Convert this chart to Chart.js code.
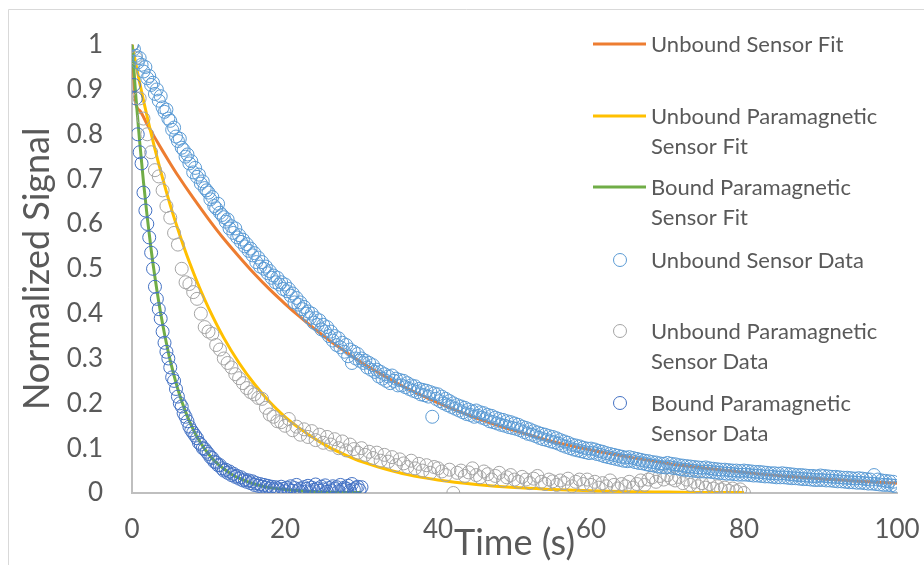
<!DOCTYPE html>
<html>
<head>
<meta charset="utf-8">
<script src="https://cdn.jsdelivr.net/npm/chart.js@4.4.1/dist/chart.umd.min.js"></script>
<style>
html,body{margin:0;padding:0;background:#fff;}
#wrap{width:924px;height:565px;position:relative;}
</style>
</head>
<body>
<div id="wrap"><canvas id="c" width="924" height="565"></canvas></div>
<script>
// ---------- DATA ----------
const seriesNames = [
  'Unbound Sensor Fit',
  'Unbound Paramagnetic Sensor Fit',
  'Bound Paramagnetic Sensor Fit',
  'Unbound Sensor Data',
  'Unbound Paramagnetic Sensor Data',
  'Bound Paramagnetic Sensor Data'
];

const xTicks = [0, 20, 40, 60, 80, 100];
const xTickLabels = ['0', '20', '40', '60', '80', '100'];
const yTicks = [0, 0.1, 0.2, 0.3, 0.4, 0.5, 0.6, 0.7, 0.8, 0.9, 1];
const yTickLabels = ['0', '0.1', '0.2', '0.3', '0.4', '0.5', '0.6', '0.7', '0.8', '0.9', '1'];

// Fit curves (time in s, normalized signal)
const unboundFitT = [0, 0.5, 1, 2, 3, 4, 5, 6, 8, 10, 12, 14, 16, 18, 20, 22, 24, 26, 28, 30, 33, 36, 40, 45, 50, 55, 60, 65, 70, 75, 80, 85, 90, 95, 100];
const unboundFitY = [1.0, 0.869, 0.853, 0.822, 0.792, 0.763, 0.735, 0.708, 0.658, 0.611, 0.567, 0.527, 0.489, 0.454, 0.422, 0.392, 0.364, 0.338, 0.314, 0.291, 0.261, 0.233, 0.201, 0.167, 0.139, 0.115, 0.096, 0.080, 0.066, 0.055, 0.046, 0.038, 0.032, 0.026, 0.022];

const paraFitT = [0, 0.5, 1, 2, 3, 4, 5, 6, 7, 8, 9, 10, 12, 14, 16, 18, 20, 22, 24, 26, 28, 30, 33, 36, 40, 45, 50, 55, 60, 65, 70, 75, 80];
const paraFitY = [1.0, 0.957, 0.915, 0.838, 0.767, 0.702, 0.642, 0.588, 0.538, 0.493, 0.451, 0.413, 0.346, 0.290, 0.243, 0.203, 0.170, 0.143, 0.120, 0.100, 0.084, 0.070, 0.054, 0.041, 0.029, 0.019, 0.012, 0.008, 0.005, 0.003, 0.002, 0.001, 0.001];

const boundFitT = [0, 0.5, 1, 1.5, 2, 2.5, 3, 3.5, 4, 4.5, 5, 6, 7, 8, 9, 10, 11, 12, 13, 14, 15, 16, 18, 20, 22, 25, 30];
const boundFitY = [1.0, 0.885, 0.784, 0.694, 0.614, 0.543, 0.481, 0.426, 0.377, 0.334, 0.295, 0.231, 0.181, 0.142, 0.111, 0.087, 0.068, 0.054, 0.042, 0.033, 0.026, 0.020, 0.012, 0.008, 0.005, 0.002, 0.001];

// Measured data, sampled every dt seconds starting at t = 0 (one row = 5 s)
const unboundDataDt = 0.25;
const unboundDataY = [
  1.0, 0.99, 0.975, 0.96, 0.97, 0.955, 0.94, 0.95, 0.925, 0.93, 0.91, 0.915, 0.89, 0.9, 0.875, 0.885, 0.86, 0.85, 0.855, 0.835,
  0.83, 0.81, 0.815, 0.795, 0.785, 0.79, 0.77, 0.765, 0.75, 0.755, 0.735, 0.74, 0.715, 0.725, 0.705, 0.71, 0.69, 0.695, 0.68, 0.675,
  0.67, 0.655, 0.66, 0.64, 0.635, 0.645, 0.625, 0.62, 0.615, 0.605, 0.61, 0.59, 0.595, 0.58, 0.59, 0.57, 0.575, 0.56, 0.565, 0.55,
  0.555, 0.54, 0.545, 0.53, 0.535, 0.515, 0.525, 0.505, 0.515, 0.5, 0.505, 0.49, 0.495, 0.48, 0.485, 0.47, 0.48, 0.465, 0.47, 0.455,
  0.465, 0.45, 0.455, 0.44, 0.445, 0.425, 0.435, 0.42, 0.425, 0.41, 0.415, 0.4, 0.405, 0.39, 0.4, 0.38, 0.39, 0.375, 0.385, 0.365,
  0.375, 0.36, 0.37, 0.35, 0.36, 0.34, 0.35, 0.33, 0.345, 0.325, 0.335, 0.315, 0.33, 0.305, 0.32, 0.29, 0.315, 0.3, 0.31, 0.295,
  0.3, 0.29, 0.295, 0.28, 0.29, 0.275, 0.285, 0.27, 0.275, 0.26, 0.27, 0.255, 0.265, 0.25, 0.26, 0.245, 0.262, 0.25, 0.255, 0.24,
  0.252, 0.24, 0.25, 0.236, 0.245, 0.232, 0.24, 0.228, 0.238, 0.225, 0.232, 0.22, 0.23, 0.218, 0.228, 0.215, 0.225, 0.17, 0.222, 0.21,
  0.22, 0.205, 0.215, 0.2, 0.21, 0.196, 0.205, 0.192, 0.2, 0.188, 0.196, 0.184, 0.193, 0.18, 0.19, 0.176, 0.186, 0.174, 0.182, 0.17,
  0.184, 0.172, 0.18, 0.168, 0.178, 0.165, 0.174, 0.16, 0.172, 0.158, 0.168, 0.155, 0.165, 0.152, 0.163, 0.15, 0.16, 0.147, 0.158, 0.145,
  0.155, 0.143, 0.152, 0.14, 0.148, 0.136, 0.145, 0.132, 0.142, 0.13, 0.138, 0.127, 0.135, 0.123, 0.132, 0.12, 0.13, 0.118, 0.127, 0.115,
  0.125, 0.113, 0.122, 0.11, 0.118, 0.106, 0.115, 0.103, 0.112, 0.1, 0.108, 0.097, 0.106, 0.095, 0.104, 0.093, 0.101, 0.091, 0.099, 0.089,
  0.099, 0.09, 0.097, 0.087, 0.094, 0.085, 0.092, 0.082, 0.089, 0.08, 0.087, 0.078, 0.085, 0.076, 0.083, 0.074, 0.081, 0.072, 0.079, 0.071,
  0.08, 0.072, 0.078, 0.069, 0.076, 0.067, 0.074, 0.066, 0.072, 0.064, 0.071, 0.062, 0.069, 0.061, 0.068, 0.059, 0.066, 0.058, 0.065, 0.057,
  0.067, 0.058, 0.065, 0.056, 0.064, 0.055, 0.062, 0.053, 0.061, 0.052, 0.06, 0.051, 0.059, 0.05, 0.058, 0.049, 0.057, 0.048, 0.056, 0.048,
  0.057, 0.048, 0.055, 0.047, 0.054, 0.046, 0.053, 0.045, 0.052, 0.044, 0.052, 0.043, 0.051, 0.043, 0.05, 0.042, 0.05, 0.041, 0.049, 0.041,
  0.05, 0.041, 0.049, 0.04, 0.048, 0.039, 0.047, 0.039, 0.047, 0.038, 0.046, 0.037, 0.045, 0.037, 0.044, 0.036, 0.044, 0.035, 0.043, 0.035,
  0.044, 0.035, 0.043, 0.034, 0.042, 0.033, 0.041, 0.033, 0.04, 0.032, 0.04, 0.031, 0.039, 0.031, 0.038, 0.03, 0.038, 0.029, 0.037, 0.029,
  0.039, 0.029, 0.038, 0.028, 0.037, 0.028, 0.036, 0.027, 0.036, 0.026, 0.035, 0.026, 0.034, 0.025, 0.034, 0.024, 0.033, 0.024, 0.032, 0.023,
  0.033, 0.023, 0.032, 0.022, 0.031, 0.021, 0.03, 0.021, 0.04, 0.02, 0.03, 0.019, 0.028, 0.018, 0.027, 0.018, 0.026, 0.017, 0.025, 0.016,
  0.012
];

// one row = 10 s
const paraDataDt = 0.5;
const paraDataY = [
  1.0, 0.97, 0.88, 0.835, 0.80, 0.76, 0.72, 0.706, 0.675, 0.64, 0.614, 0.58, 0.554, 0.50, 0.47, 0.466, 0.448, 0.433, 0.40, 0.37,
  0.36, 0.355, 0.33, 0.32, 0.30, 0.29, 0.28, 0.265, 0.256, 0.245, 0.234, 0.225, 0.22, 0.212, 0.21, 0.19, 0.175, 0.17, 0.16, 0.158,
  0.15, 0.165, 0.14, 0.148, 0.13, 0.142, 0.125, 0.138, 0.118, 0.13, 0.112, 0.125, 0.108, 0.12, 0.1, 0.115, 0.095, 0.108, 0.098, 0.09,
  0.1, 0.085, 0.092, 0.078, 0.09, 0.072, 0.085, 0.07, 0.08, 0.062, 0.075, 0.066, 0.058, 0.072, 0.055, 0.065, 0.05, 0.062, 0.045, 0.058,
  0.055, 0.048, 0.04, 0.052, 0.0, 0.045, 0.05, 0.038, 0.046, 0.055, 0.04, 0.035, 0.048, 0.042, 0.03, 0.038, 0.045, 0.028, 0.035, 0.04,
  0.03, 0.025, 0.036, 0.03, 0.022, 0.032, 0.038, 0.025, 0.02, 0.03, 0.026, 0.018, 0.028, 0.022, 0.032, 0.015, 0.025, 0.03, 0.02, 0.03,
  0.018, 0.025, 0.012, 0.022, 0.015, 0.028, 0.018, 0.01, 0.02, 0.015, 0.025, 0.012, 0.02, 0.028, 0.018, 0.03, 0.035, 0.025, 0.038, 0.03,
  0.04, 0.032, 0.028, 0.036, 0.022, 0.03, 0.018, 0.025, 0.015, 0.022, 0.012, 0.02, 0.01, 0.015, 0.008, 0.012, 0.005, 0.01, 0.004, 0.008,
  0.0
];

// one row = 5 s
const boundDataDt = 0.25;
const boundDataY = [
  1.00, 0.91, 0.88, 0.80, 0.76, 0.735, 0.67, 0.63, 0.60, 0.57, 0.536, 0.50, 0.46, 0.433, 0.41, 0.389, 0.36, 0.335, 0.315, 0.30,
  0.28, 0.258, 0.25, 0.232, 0.215, 0.20, 0.193, 0.178, 0.17, 0.16, 0.148, 0.14, 0.134, 0.128, 0.122, 0.112, 0.108, 0.10, 0.098, 0.092,
  0.087, 0.08, 0.078, 0.07, 0.068, 0.062, 0.062, 0.055, 0.05, 0.052, 0.045, 0.048, 0.04, 0.043, 0.036, 0.038, 0.032, 0.035, 0.028, 0.03,
  0.025, 0.028, 0.022, 0.026, 0.018, 0.022, 0.016, 0.02, 0.014, 0.018, 0.012, 0.016, 0.01, 0.014, 0.008, 0.013, 0.01, 0.006, 0.014, 0.009,
  0.004, 0.012, 0.008, 0.015, 0.005, 0.011, 0.018, 0.006, 0.01, 0.003, 0.013, 0.009, 0.016, 0.004, 0.012, 0.007, 0.019, 0.01, 0.005, 0.014,
  0.008, 0.017, 0.003, 0.011, 0.006, 0.015, 0.009, 0.013, 0.004, 0.018, 0.007, 0.012, 0.01, 0.016, 0.005, 0.02, 0.008, 0.011, 0.014, 0.006,
  0.013
];

// ---------- STYLE ----------
const colors = ['#ED7D31', '#FFC000', '#70AD47', '#5B9BD5', '#A5A5A5', '#4472C4'];
const textColor = '#595959';
const axisColor = '#BFBFBF';
const FONT = 'Lato, "Open Sans", sans-serif';

function pairs(xs, ys) { return xs.map((x, i) => ({ x: x, y: ys[i] })); }
function sampled(ys, dt) { return ys.map((y, i) => ({ x: Math.round(i * dt * 100) / 100, y: y })); }

function fitSet(i, data, order) {
  return {
    type: 'scatter', label: seriesNames[i], data: data, showLine: true,
    borderColor: colors[i], backgroundColor: colors[i], borderWidth: 3,
    pointRadius: 0, pointHoverRadius: 0, cubicInterpolationMode: 'monotone', order: order
  };
}
function dataSet(i, data) {
  return {
    type: 'scatter', label: seriesNames[i], data: data, showLine: false,
    borderColor: colors[i], backgroundColor: 'rgba(0,0,0,0)', borderWidth: 1,
    pointRadius: 6.5, pointHoverRadius: 6.5, pointStyle: 'circle', order: 0
  };
}

const datasets = [
  dataSet(3, sampled(unboundDataY, unboundDataDt)),
  dataSet(4, sampled(paraDataY, paraDataDt)),
  dataSet(5, sampled(boundDataY, boundDataDt)),
  fitSet(0, pairs(unboundFitT, unboundFitY), 3),
  fitSet(1, pairs(paraFitT, paraFitY), 2),
  fitSet(2, pairs(boundFitT, boundFitY), 1)
];

// Custom legend drawn on top of the plot (right side)
const legendPlugin = {
  id: 'customLegend',
  afterDraw(chart) {
    const ctx = chart.ctx;
    const entryY = [44, 116, 187, 260, 331, 403];
    const lineH = 29.5;
    const textX = 651;
    ctx.save();
    ctx.font = '22px ' + FONT;
    ctx.fillStyle = textColor;
    ctx.textBaseline = 'middle';
    ctx.textAlign = 'left';
    seriesNames.forEach((name, si) => {
      const y0 = entryY[si];
      ctx.strokeStyle = colors[si];
      if (si < 3) {
        ctx.lineWidth = 3;
        ctx.beginPath(); ctx.moveTo(593, y0); ctx.lineTo(646, y0); ctx.stroke();
      } else {
        ctx.lineWidth = 1;
        ctx.beginPath(); ctx.arc(620, y0, 6.5, 0, Math.PI * 2); ctx.stroke();
      }
      const words = name.split(' ');
      const lines = [];
      let cur = '';
      words.forEach(w => {
        const test = cur ? cur + ' ' + w : w;
        if (ctx.measureText(test).width > 255 && cur) { lines.push(cur); cur = w; }
        else cur = test;
      });
      if (cur) lines.push(cur);
      ctx.fillStyle = textColor;
      lines.forEach((ln, j) => ctx.fillText(ln, textX, y0 + 1 + j * lineH));
    });
    ctx.restore();
  }
};

const framePlugin = {
  id: 'frame',
  beforeDraw(chart) {
    const ctx = chart.ctx;
    ctx.save();
    ctx.fillStyle = '#fff';
    ctx.fillRect(0, 0, chart.width, chart.height);
    ctx.strokeStyle = '#D9D9D9';
    ctx.lineWidth = 1;
    ctx.beginPath();
    ctx.moveTo(8.5, chart.height); ctx.lineTo(8.5, 9.5); ctx.lineTo(chart.width, 9.5);
    ctx.stroke();
    ctx.restore();
  }
};

new Chart(document.getElementById('c'), {
  type: 'scatter',
  data: { datasets: datasets },
  plugins: [framePlugin, legendPlugin],
  options: {
    responsive: false,
    animation: false,
    events: [],
    layout: { padding: { left: 0, right: 27, top: 40, bottom: 0 } },
    plugins: { legend: { display: false }, tooltip: { enabled: false } },
    scales: {
      x: {
        type: 'linear', min: 0, max: 100,
        grid: { display: false, drawTicks: false },
        border: { display: true, color: axisColor, width: 2 },
        afterBuildTicks: s => { s.ticks = xTicks.map(v => ({ value: v })); },
        ticks: {
          color: textColor, font: { family: FONT, size: 26 }, padding: 21,
          maxRotation: 0, autoSkip: false,
          callback: (v, i) => xTickLabels[i]
        },
        title: {
          display: true, text: 'Time (s)', color: textColor,
          font: { family: FONT, size: 36 }, padding: { top: 0, bottom: 0 }
        },
        afterFit: s => { s.height = 72; s.paddingLeft = 0; s.paddingRight = 0; }
      },
      y: {
        type: 'linear', min: 0, max: 1,
        grid: { display: false, drawTicks: false },
        border: { display: true, color: axisColor, width: 2 },
        afterBuildTicks: s => { s.ticks = yTicks.map(v => ({ value: v })); },
        ticks: {
          color: textColor, font: { family: FONT, size: 26 }, padding: 29,
          autoSkip: false,
          callback: (v, i) => yTickLabels[i]
        },
        title: {
          display: true, text: 'Normalized Signal', color: textColor,
          font: { family: FONT, size: 36 }, padding: { top: 16, bottom: 0 }
        },
        afterFit: s => { s.width = 132; }
      }
    }
  }
});
</script>
</body>
</html>
